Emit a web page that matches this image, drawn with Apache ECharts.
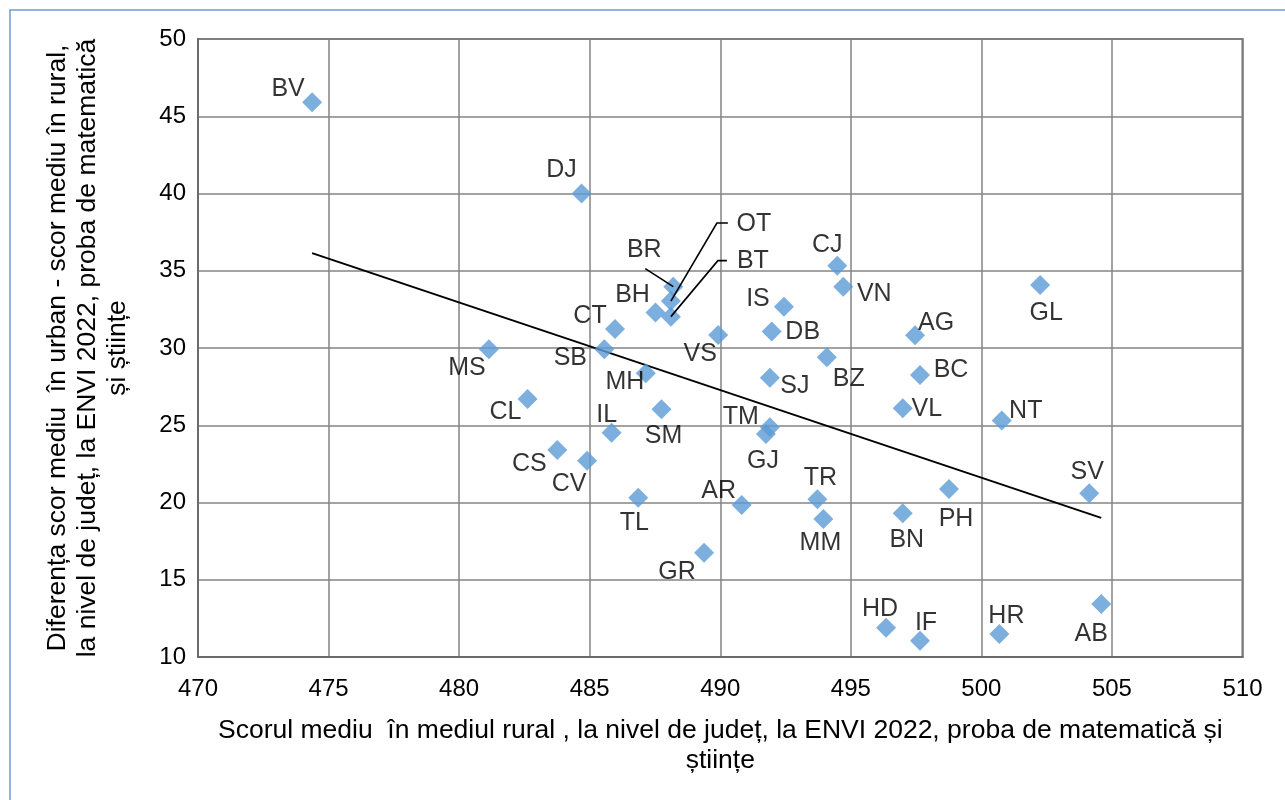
<!DOCTYPE html>
<html>
<head>
<meta charset="utf-8">
<script src="https://cdn.jsdelivr.net/npm/echarts@6/dist/echarts.min.js"></script>
<style>
  html, body { margin: 0; padding: 0; background: #ffffff; }
  #chart { width: 1285px; height: 800px; }
</style>
</head>
<body>
<div id="chart"></div>
<script>
// County codes
const counties = ['BV','DJ','CT','BR','OT','BT','BH','VS','IS','DB','CJ','VN','AG','GL','MS','SB','MH','CL','IL','SM','SJ','BZ','BC','VL','NT','TM','GJ','CS','CV','TL','AR','TR','MM','GR','PH','BN','HD','IF','HR','SV','AB'];
// Mean rural score, ENVI 2022 maths & science
const ruralScore = [474.37,484.69,485.97,488.20,488.11,488.11,487.52,489.92,492.44,491.97,494.48,494.71,497.46,502.25,481.14,485.56,487.15,482.62,485.84,487.75,491.90,494.08,497.65,496.99,500.78,491.90,491.75,483.76,484.90,486.86,490.82,493.72,493.95,489.38,498.76,496.99,496.35,497.65,500.69,504.13,504.59];
// Urban minus rural mean score
const urbanRuralGap = [45.90,40.00,31.23,33.97,33.04,32.03,32.29,30.84,32.67,31.06,35.33,33.97,30.82,34.08,29.92,29.92,28.36,26.70,24.52,26.03,28.08,29.40,28.25,26.10,25.30,24.87,24.43,23.40,22.71,20.31,19.84,20.21,18.93,16.75,20.87,19.30,11.90,11.05,11.49,20.60,13.43];
const xTicks = { min: 470, max: 510, step: 5 };
const yTicks = { min: 10, max: 50, step: 5 };

const xTitle = 'Scorul mediu  în mediul rural , la nivel de județ, la ENVI 2022, proba de matematică și\nștiințe';
const yTitle = 'Diferența scor mediu  în urban - scor mediu în rural,\nla nivel de județ, la ENVI 2022, proba de matematică\nși științe';

// Label placement (pixel offset of the label centre from its marker)
const labelOffset = {
  BV:[-24,-13], DJ:[-20,-23], CT:[-25,-13], BR:[-29,-37], OT:[83,-77], BT:[82,-56],
  BH:[-23,-18], VS:[-18,19], IS:[-26,-8], DB:[31,0], CJ:[-10,-21], VN:[31,7],
  AG:[21,-12], GL:[6,28], MS:[-22,19], SB:[-34,9], MH:[-21,9], CL:[-22,13],
  IL:[-5,-18], SM:[2,27], SJ:[25,8], BZ:[22,22], BC:[31,-5], VL:[24,1],
  NT:[24,-10], TM:[-29,-10], GJ:[-3,27], CS:[-28,14], CV:[-18,23], TL:[-4,25],
  AR:[-23,-14], TR:[3,-21], MM:[-3,24], GR:[-27,19], PH:[7,30], BN:[4,27],
  HD:[-6,-19], IF:[6,-18], HR:[7,-18], SV:[-2,-21], AB:[-10,30]
};
// Leader line bends (pixels relative to the marker)
const leaderPath = {
  BR: [[-28,-18]],
  OT: [[46,-78],[57,-78]],
  BT: [[47,-56],[56,-56]]
};

const FONT = '"Liberation Sans", Arial, sans-serif';

const points = counties.map((c, i) => ({
  name: c,
  value: [ruralScore[i], urbanRuralGap[i]],
  label: { offset: labelOffset[c] || [0, 0] }
}));

// Least-squares linear trend across the data range
const n = ruralScore.length;
const mx = ruralScore.reduce((a, b) => a + b, 0) / n;
const my = urbanRuralGap.reduce((a, b) => a + b, 0) / n;
let sxy = 0, sxx = 0;
for (let i = 0; i < n; i++) {
  sxy += (ruralScore[i] - mx) * (urbanRuralGap[i] - my);
  sxx += (ruralScore[i] - mx) ** 2;
}
const slope = sxy / sxx;
const intercept = my - slope * mx;
const xLo = Math.min(...ruralScore), xHi = Math.max(...ruralScore);
const trend = [[xLo, intercept + slope * xLo], [xHi, intercept + slope * xHi]];

const leaderData = counties
  .map((c, i) => ({ c, v: [ruralScore[i], urbanRuralGap[i]] }))
  .filter(d => leaderPath[d.c])
  .map(d => ({ name: d.c, value: d.v }));

const chart = echarts.init(document.getElementById('chart'), null, { renderer: 'canvas' });
chart.setOption({
  animation: false,
  backgroundColor: '#ffffff',
  textStyle: { fontFamily: FONT },
  graphic: [{
    type: 'rect',
    shape: { x: 10, y: 10, width: 1300, height: 820 },
    style: { fill: 'none', stroke: '#6A9FD8', lineWidth: 1.5 },
    silent: true, z: -1
  }],
  grid: {
    left: 198, top: 39, right: 42.5, bottom: 143,
    show: true, borderColor: '#6b6b6b', borderWidth: 2, backgroundColor: 'transparent'
  },
  xAxis: {
    type: 'value', min: xTicks.min, max: xTicks.max, interval: xTicks.step,
    axisLine: { show: true, onZero: false, lineStyle: { color: '#6b6b6b', width: 2 } },
    axisTick: { show: false },
    axisLabel: { color: '#000', fontSize: 24, margin: 20, fontFamily: FONT },
    splitLine: { show: true, lineStyle: { color: '#858585', width: 1.5 } },
    name: xTitle, nameLocation: 'middle', nameGap: 59,
    nameTextStyle: { color: '#000', fontSize: 26.5, lineHeight: 30, fontFamily: FONT }
  },
  yAxis: {
    type: 'value', min: yTicks.min, max: yTicks.max, interval: yTicks.step,
    axisLine: { show: true, onZero: false, lineStyle: { color: '#6b6b6b', width: 2 } },
    axisTick: { show: false },
    axisLabel: { color: '#000', fontSize: 24, margin: 12, fontFamily: FONT },
    splitLine: { show: true, lineStyle: { color: '#858585', width: 1.5 } },
    name: yTitle, nameLocation: 'middle', nameGap: 65, nameRotate: 90,
    nameTextStyle: { color: '#000', fontSize: 26.5, lineHeight: 30, fontFamily: FONT, align: 'center' }
  },
  series: [
    {
      type: 'line',
      data: trend,
      symbol: 'none',
      lineStyle: { color: '#000', width: 2 },
      z: 2, silent: true
    },
    {
      type: 'scatter',
      data: points,
      symbol: 'diamond',
      symbolSize: 20,
      itemStyle: { color: '#5B9BD5' },
      label: {
        show: true, position: 'inside', formatter: '{b}',
        color: '#000', fontSize: 25, fontFamily: FONT,
        textBorderWidth: 0, textShadowBlur: 0
      },
      z: 3
    },
    {
      type: 'custom',
      data: leaderData,
      z: 4, silent: true,
      renderItem: function (params, api) {
        const name = leaderData[params.dataIndex].name;
        const p = api.coord([api.value(0), api.value(1)]);
        const pts = [p].concat(leaderPath[name].map(o => [p[0] + o[0], p[1] + o[1]]));
        return {
          type: 'polyline',
          shape: { points: pts },
          style: { stroke: '#000', lineWidth: 1.6, fill: null }
        };
      }
    }
  ]
});
</script>
</body>
</html>
